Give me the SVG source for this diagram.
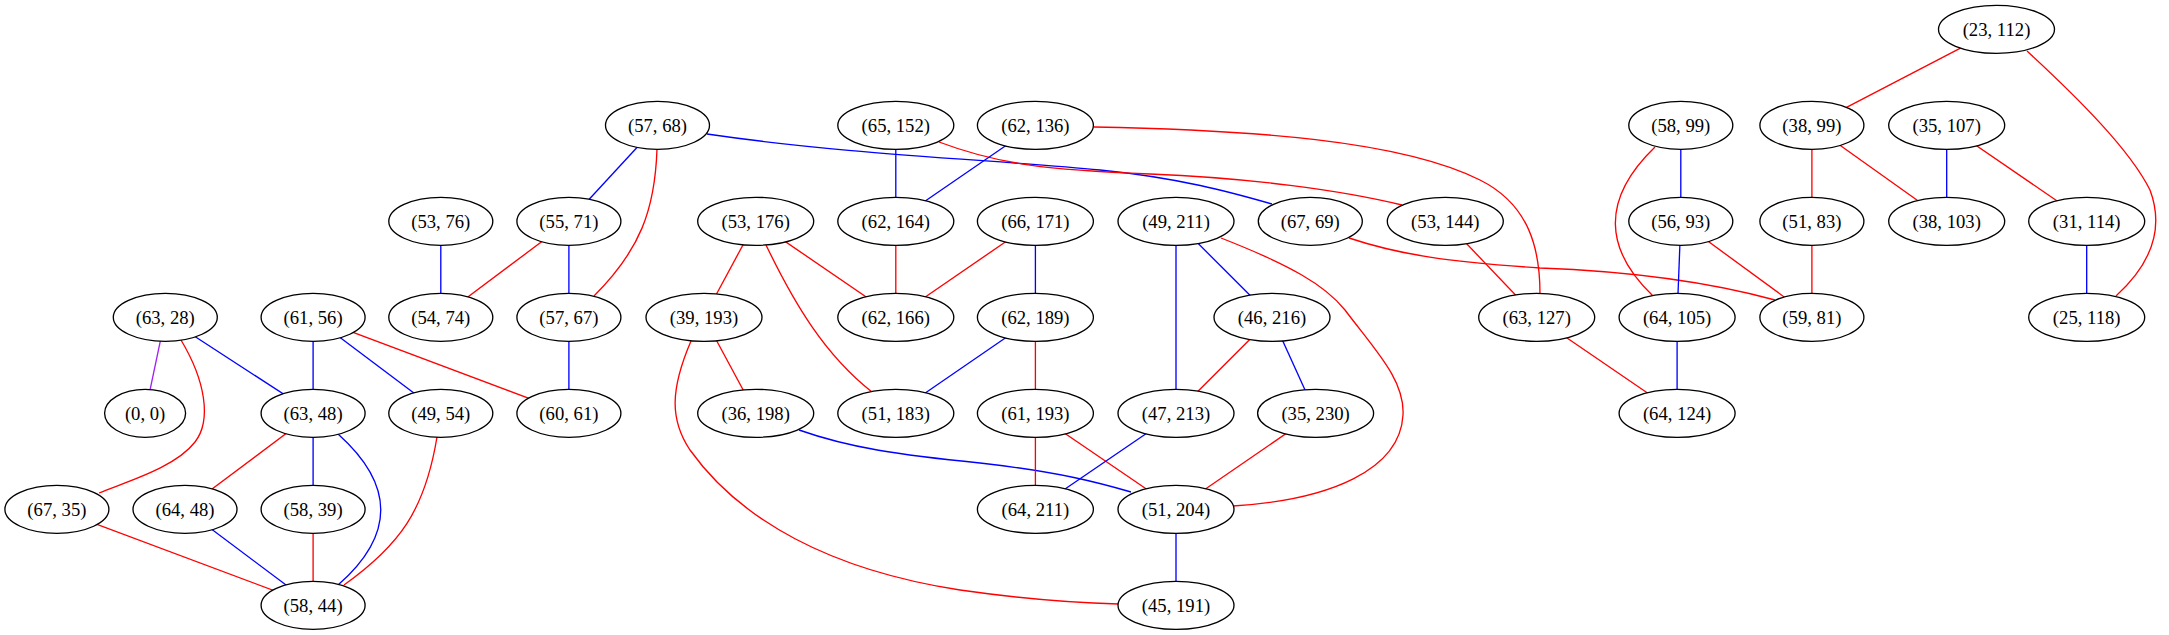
<svg xmlns="http://www.w3.org/2000/svg" width="2169" height="635" viewBox="0 0 2169 635">
<style>
.e line,.e path{fill:none;stroke-width:1.33}
.r{stroke:#ff0000}.b{stroke:#0000ff}.p{stroke:#a020f0}
.n ellipse{fill:#ffffff;stroke:#000000;stroke-width:1.33}
.n text{font-family:"Liberation Serif","Times New Roman",serif;font-size:18.67px;text-anchor:middle;fill:#000000}
</style>
<rect width="2169" height="635" fill="#ffffff"/>
<g id="edges" class="e">
<line class="b" x1="657.5" y1="125.3" x2="568.9" y2="221.3"/>
<path class="r" d="M657,149 C655,210 640,250 594,296"/>
<path class="b" d="M707,134 C850,155 1000,160 1100,170 C1180,178 1230,192 1272,204"/>
<line class="b" x1="440.8" y1="221.3" x2="440.8" y2="317.3"/>
<line class="r" x1="568.9" y1="221.3" x2="440.8" y2="317.3"/>
<line class="b" x1="568.9" y1="221.3" x2="568.9" y2="317.3"/>
<line class="b" x1="568.9" y1="317.3" x2="568.9" y2="413.3"/>
<line class="p" x1="165.3" y1="317.3" x2="145.1" y2="413.3"/>
<line class="b" x1="165.3" y1="317.3" x2="313.1" y2="413.3"/>
<path class="r" d="M181,340 C205,380 212,420 195,442 C175,468 125,482 99,493"/>
<line class="b" x1="313.1" y1="317.3" x2="313.1" y2="413.3"/>
<line class="b" x1="313.1" y1="317.3" x2="440.8" y2="413.3"/>
<line class="r" x1="313.1" y1="317.3" x2="568.9" y2="413.3"/>
<line class="r" x1="313.1" y1="413.3" x2="185" y2="509.3"/>
<line class="b" x1="313.1" y1="413.3" x2="313.1" y2="509.3"/>
<path class="b" d="M338,434 C395,485 395,535 338,585"/>
<line class="r" x1="56.9" y1="509.3" x2="313.1" y2="605.3"/>
<line class="b" x1="185" y1="509.3" x2="313.1" y2="605.3"/>
<line class="r" x1="313.1" y1="509.3" x2="313.1" y2="605.3"/>
<path class="r" d="M437,437 C425,510 400,545 344,585"/>
<line class="b" x1="895.8" y1="125.3" x2="895.8" y2="221.3"/>
<path class="r" d="M939,142 C1000,165 1050,170 1150,174 C1250,178 1340,190 1402,205"/>
<line class="b" x1="1035.4" y1="125.3" x2="895.8" y2="221.3"/>
<path class="r" d="M1094,127 C1250,130 1400,140 1480,180 C1530,205 1540,250 1540,294"/>
<line class="r" x1="755.7" y1="221.3" x2="704" y2="317.3"/>
<line class="r" x1="755.7" y1="221.3" x2="895.8" y2="317.3"/>
<path class="r" d="M766,245 C795,305 825,355 872,392"/>
<line class="r" x1="895.8" y1="221.3" x2="895.8" y2="317.3"/>
<line class="r" x1="1035.4" y1="221.3" x2="895.8" y2="317.3"/>
<line class="b" x1="1035.4" y1="221.3" x2="1035.4" y2="317.3"/>
<line class="b" x1="1176" y1="221.3" x2="1176" y2="413.3"/>
<line class="b" x1="1176" y1="221.3" x2="1272" y2="317.3"/>
<path class="r" d="M1221,238 C1290,265 1325,285 1345,310 C1375,350 1405,380 1403,415 C1400,470 1330,500 1233,506"/>
<path class="r" d="M1349,238 C1400,255 1450,262 1540,268 C1650,272 1720,285 1775,300"/>
<line class="r" x1="704" y1="317.3" x2="755.7" y2="413.3"/>
<path class="r" d="M691,341 C670,390 670,420 690,450 C740,520 830,570 960,590 C1030,600 1080,603 1118,604"/>
<line class="b" x1="1035.4" y1="317.3" x2="895.8" y2="413.3"/>
<line class="r" x1="1035.4" y1="317.3" x2="1035.4" y2="413.3"/>
<line class="r" x1="1272" y1="317.3" x2="1176" y2="413.3"/>
<line class="b" x1="1272" y1="317.3" x2="1315.6" y2="413.3"/>
<path class="b" d="M799,430 C850,448 900,455 980,463 C1060,472 1100,483 1131,492"/>
<line class="r" x1="1035.4" y1="413.3" x2="1035.4" y2="509.3"/>
<line class="r" x1="1035.4" y1="413.3" x2="1176" y2="509.3"/>
<line class="b" x1="1176" y1="413.3" x2="1035.4" y2="509.3"/>
<line class="r" x1="1315.6" y1="413.3" x2="1176" y2="509.3"/>
<line class="b" x1="1176" y1="509.3" x2="1176" y2="605.3"/>
<line class="r" x1="1445.3" y1="221.3" x2="1536.7" y2="317.3"/>
<line class="r" x1="1996.5" y1="29.3" x2="1811.9" y2="125.3"/>
<path class="r" d="M2027,51 C2080,100 2130,150 2150,190 C2165,230 2150,265 2116,296"/>
<line class="b" x1="1680.8" y1="125.3" x2="1680.8" y2="221.3"/>
<path class="r" d="M1655,147 C1600,200 1605,250 1653,296"/>
<line class="r" x1="1811.9" y1="125.3" x2="1811.9" y2="221.3"/>
<line class="r" x1="1811.9" y1="125.3" x2="1946.7" y2="221.3"/>
<line class="b" x1="1946.7" y1="125.3" x2="1946.7" y2="221.3"/>
<line class="r" x1="1946.7" y1="125.3" x2="2086.7" y2="221.3"/>
<line class="b" x1="1680.8" y1="221.3" x2="1677.1" y2="317.3"/>
<line class="r" x1="1680.8" y1="221.3" x2="1811.9" y2="317.3"/>
<line class="r" x1="1811.9" y1="221.3" x2="1811.9" y2="317.3"/>
<line class="b" x1="2086.7" y1="221.3" x2="2086.7" y2="317.3"/>
<line class="r" x1="1536.7" y1="317.3" x2="1677.1" y2="413.3"/>
<line class="b" x1="1677.1" y1="317.3" x2="1677.1" y2="413.3"/>
</g>
<g id="n23_112" class="n"><ellipse cx="1996.5" cy="29.3" rx="58" ry="24"/><text x="1996.5" y="35.5">(23, 112)</text></g>
<g id="n57_68" class="n"><ellipse cx="657.5" cy="125.3" rx="52" ry="24"/><text x="657.5" y="131.5">(57, 68)</text></g>
<g id="n65_152" class="n"><ellipse cx="895.8" cy="125.3" rx="58" ry="24"/><text x="895.8" y="131.5">(65, 152)</text></g>
<g id="n62_136" class="n"><ellipse cx="1035.4" cy="125.3" rx="58" ry="24"/><text x="1035.4" y="131.5">(62, 136)</text></g>
<g id="n58_99" class="n"><ellipse cx="1680.8" cy="125.3" rx="52" ry="24"/><text x="1680.8" y="131.5">(58, 99)</text></g>
<g id="n38_99" class="n"><ellipse cx="1811.9" cy="125.3" rx="52" ry="24"/><text x="1811.9" y="131.5">(38, 99)</text></g>
<g id="n35_107" class="n"><ellipse cx="1946.7" cy="125.3" rx="58" ry="24"/><text x="1946.7" y="131.5">(35, 107)</text></g>
<g id="n53_76" class="n"><ellipse cx="440.8" cy="221.3" rx="52" ry="24"/><text x="440.8" y="227.5">(53, 76)</text></g>
<g id="n55_71" class="n"><ellipse cx="568.9" cy="221.3" rx="52" ry="24"/><text x="568.9" y="227.5">(55, 71)</text></g>
<g id="n53_176" class="n"><ellipse cx="755.7" cy="221.3" rx="58" ry="24"/><text x="755.7" y="227.5">(53, 176)</text></g>
<g id="n62_164" class="n"><ellipse cx="895.8" cy="221.3" rx="58" ry="24"/><text x="895.8" y="227.5">(62, 164)</text></g>
<g id="n66_171" class="n"><ellipse cx="1035.4" cy="221.3" rx="58" ry="24"/><text x="1035.4" y="227.5">(66, 171)</text></g>
<g id="n49_211" class="n"><ellipse cx="1176" cy="221.3" rx="58" ry="24"/><text x="1176" y="227.5">(49, 211)</text></g>
<g id="n67_69" class="n"><ellipse cx="1310.3" cy="221.3" rx="52" ry="24"/><text x="1310.3" y="227.5">(67, 69)</text></g>
<g id="n53_144" class="n"><ellipse cx="1445.3" cy="221.3" rx="58" ry="24"/><text x="1445.3" y="227.5">(53, 144)</text></g>
<g id="n56_93" class="n"><ellipse cx="1680.8" cy="221.3" rx="52" ry="24"/><text x="1680.8" y="227.5">(56, 93)</text></g>
<g id="n51_83" class="n"><ellipse cx="1811.9" cy="221.3" rx="52" ry="24"/><text x="1811.9" y="227.5">(51, 83)</text></g>
<g id="n38_103" class="n"><ellipse cx="1946.7" cy="221.3" rx="58" ry="24"/><text x="1946.7" y="227.5">(38, 103)</text></g>
<g id="n31_114" class="n"><ellipse cx="2086.7" cy="221.3" rx="58" ry="24"/><text x="2086.7" y="227.5">(31, 114)</text></g>
<g id="n63_28" class="n"><ellipse cx="165.3" cy="317.3" rx="52" ry="24"/><text x="165.3" y="323.5">(63, 28)</text></g>
<g id="n61_56" class="n"><ellipse cx="313.1" cy="317.3" rx="52" ry="24"/><text x="313.1" y="323.5">(61, 56)</text></g>
<g id="n54_74" class="n"><ellipse cx="440.8" cy="317.3" rx="52" ry="24"/><text x="440.8" y="323.5">(54, 74)</text></g>
<g id="n57_67" class="n"><ellipse cx="568.9" cy="317.3" rx="52" ry="24"/><text x="568.9" y="323.5">(57, 67)</text></g>
<g id="n39_193" class="n"><ellipse cx="704" cy="317.3" rx="58" ry="24"/><text x="704" y="323.5">(39, 193)</text></g>
<g id="n62_166" class="n"><ellipse cx="895.8" cy="317.3" rx="58" ry="24"/><text x="895.8" y="323.5">(62, 166)</text></g>
<g id="n62_189" class="n"><ellipse cx="1035.4" cy="317.3" rx="58" ry="24"/><text x="1035.4" y="323.5">(62, 189)</text></g>
<g id="n46_216" class="n"><ellipse cx="1272" cy="317.3" rx="58" ry="24"/><text x="1272" y="323.5">(46, 216)</text></g>
<g id="n63_127" class="n"><ellipse cx="1536.7" cy="317.3" rx="58" ry="24"/><text x="1536.7" y="323.5">(63, 127)</text></g>
<g id="n64_105" class="n"><ellipse cx="1677.1" cy="317.3" rx="58" ry="24"/><text x="1677.1" y="323.5">(64, 105)</text></g>
<g id="n59_81" class="n"><ellipse cx="1811.9" cy="317.3" rx="52" ry="24"/><text x="1811.9" y="323.5">(59, 81)</text></g>
<g id="n25_118" class="n"><ellipse cx="2086.7" cy="317.3" rx="58" ry="24"/><text x="2086.7" y="323.5">(25, 118)</text></g>
<g id="n0_0" class="n"><ellipse cx="145.1" cy="413.3" rx="40.5" ry="24"/><text x="145.1" y="419.5">(0, 0)</text></g>
<g id="n63_48" class="n"><ellipse cx="313.1" cy="413.3" rx="52" ry="24"/><text x="313.1" y="419.5">(63, 48)</text></g>
<g id="n49_54" class="n"><ellipse cx="440.8" cy="413.3" rx="52" ry="24"/><text x="440.8" y="419.5">(49, 54)</text></g>
<g id="n60_61" class="n"><ellipse cx="568.9" cy="413.3" rx="52" ry="24"/><text x="568.9" y="419.5">(60, 61)</text></g>
<g id="n36_198" class="n"><ellipse cx="755.7" cy="413.3" rx="58" ry="24"/><text x="755.7" y="419.5">(36, 198)</text></g>
<g id="n51_183" class="n"><ellipse cx="895.8" cy="413.3" rx="58" ry="24"/><text x="895.8" y="419.5">(51, 183)</text></g>
<g id="n61_193" class="n"><ellipse cx="1035.4" cy="413.3" rx="58" ry="24"/><text x="1035.4" y="419.5">(61, 193)</text></g>
<g id="n47_213" class="n"><ellipse cx="1176" cy="413.3" rx="58" ry="24"/><text x="1176" y="419.5">(47, 213)</text></g>
<g id="n35_230" class="n"><ellipse cx="1315.6" cy="413.3" rx="58" ry="24"/><text x="1315.6" y="419.5">(35, 230)</text></g>
<g id="n64_124" class="n"><ellipse cx="1677.1" cy="413.3" rx="58" ry="24"/><text x="1677.1" y="419.5">(64, 124)</text></g>
<g id="n67_35" class="n"><ellipse cx="56.9" cy="509.3" rx="52" ry="24"/><text x="56.9" y="515.5">(67, 35)</text></g>
<g id="n64_48" class="n"><ellipse cx="185" cy="509.3" rx="52" ry="24"/><text x="185" y="515.5">(64, 48)</text></g>
<g id="n58_39" class="n"><ellipse cx="313.1" cy="509.3" rx="52" ry="24"/><text x="313.1" y="515.5">(58, 39)</text></g>
<g id="n64_211" class="n"><ellipse cx="1035.4" cy="509.3" rx="58" ry="24"/><text x="1035.4" y="515.5">(64, 211)</text></g>
<g id="n51_204" class="n"><ellipse cx="1176" cy="509.3" rx="58" ry="24"/><text x="1176" y="515.5">(51, 204)</text></g>
<g id="n58_44" class="n"><ellipse cx="313.1" cy="605.3" rx="52" ry="24"/><text x="313.1" y="611.5">(58, 44)</text></g>
<g id="n45_191" class="n"><ellipse cx="1176" cy="605.3" rx="58" ry="24"/><text x="1176" y="611.5">(45, 191)</text></g>
</svg>
